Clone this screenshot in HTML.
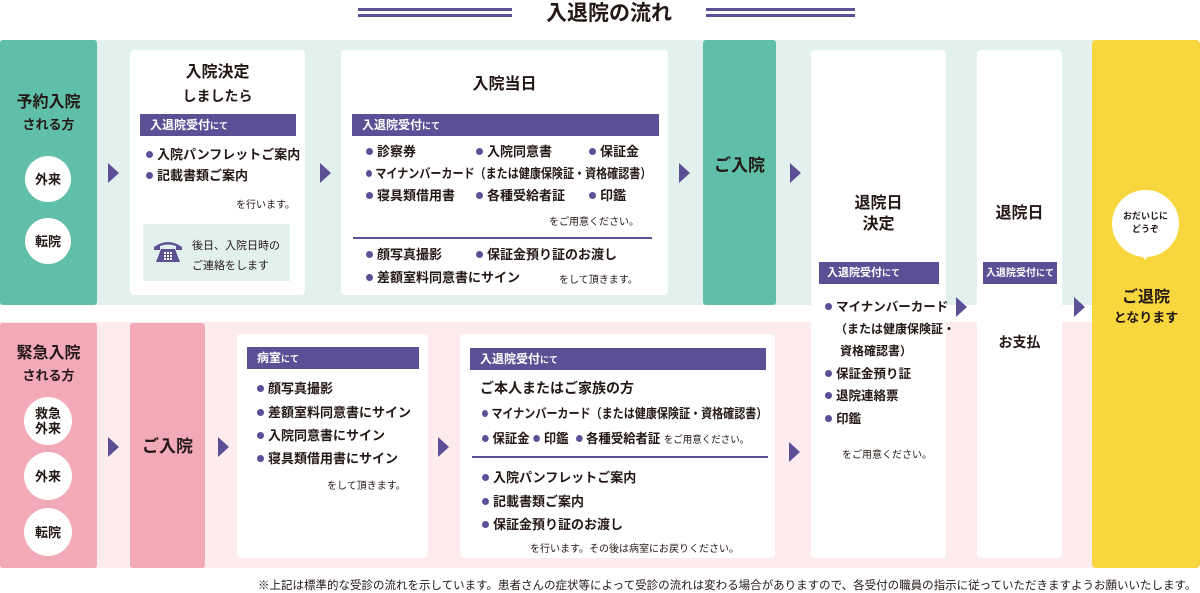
<!DOCTYPE html>
<html><head><meta charset="utf-8"><style>
*{margin:0;padding:0;box-sizing:border-box}
body{width:1200px;height:593px;background:#fff;position:relative;overflow:hidden;font-family:"Liberation Sans","Noto Sans CJK JP",sans-serif;color:#231815;font-weight:bold}
.a{position:absolute}
.card{position:absolute;background:#fff;border-radius:4px}
.bar{position:absolute;background:#5c4f96;color:#fff;font-size:12px;line-height:22px;padding-left:10px;height:22px}
.bar small{font-size:9px}
.t{position:absolute;font-size:13px;line-height:20px;white-space:nowrap}
.d{display:inline-block;width:7px;height:7px;border-radius:50%;background:#5c4f96;margin-right:4px;vertical-align:1px}
.s{position:absolute;font-size:10px;font-weight:normal;white-space:nowrap}
.arr{position:absolute;width:0;height:0;border-top:10px solid transparent;border-bottom:10px solid transparent;border-left:11px solid #5c4f96}
.circ{position:absolute;width:46px;height:46px;border-radius:50%;background:#fff;font-size:13px;text-align:center;display:flex;align-items:center;justify-content:center;line-height:15px}
.h{position:absolute;text-align:center;font-size:16px;line-height:21px}
.sx{transform:scaleX(0.85);transform-origin:left center}
</style></head><body>
<!-- title -->
<div class="a" style="left:358px;top:8px;width:154px;height:3px;background:#5c4f96"></div>
<div class="a" style="left:358px;top:14px;width:154px;height:3px;background:#5c4f96"></div>
<div class="a" style="left:706px;top:8px;width:149px;height:3px;background:#5c4f96"></div>
<div class="a" style="left:706px;top:14px;width:149px;height:3px;background:#5c4f96"></div>
<div class="a" style="left:512px;top:0px;width:194px;text-align:center;font-size:21px;line-height:27px">入退院の流れ</div>

<!-- bands -->
<div class="a" style="left:0;top:40px;width:1095px;height:265px;background:#e3f1ee"></div>
<div class="a" style="left:0;top:322px;width:1095px;height:246px;background:#fdebee"></div>
<div class="a" style="left:0;top:40px;width:97px;height:265px;background:#5fbfa8;border-radius:3px"></div>
<div class="a" style="left:703px;top:40px;width:73px;height:265px;background:#5fbfa8;border-radius:3px"></div>
<div class="a" style="left:0;top:323px;width:97px;height:245px;background:#f2aab6;border-radius:3px"></div>
<div class="a" style="left:130px;top:323px;width:75px;height:245px;background:#f2aab6;border-radius:3px"></div>
<div class="a" style="left:1092px;top:40px;width:108px;height:528px;background:#f7d63e;border-radius:4px"></div>

<!-- left top -->
<div class="h" style="left:0;top:92px;width:97px;font-size:16px">予約入院</div>
<div class="h" style="left:0;top:114px;width:97px;font-size:13px">される方</div>
<div class="circ" style="left:25px;top:156px">外来</div>
<div class="circ" style="left:25px;top:218px">転院</div>

<!-- card1 -->
<div class="card" style="left:130px;top:50px;width:175px;height:245px"></div>
<div class="h" style="left:130px;top:62px;width:175px">入院決定</div>
<div class="h" style="left:130px;top:86px;width:175px;font-size:14px">しましたら</div>
<div class="bar" style="left:140px;top:114px;width:156px">入退院受付<small>にて</small></div>
<div class="t" style="left:146px;top:145px"><span class="d"></span>入院パンフレットご案内</div>
<div class="t" style="left:146px;top:166px"><span class="d"></span>記載書類ご案内</div>
<div class="s" style="left:236px;top:196px">を行います。</div>
<div class="a" style="left:143px;top:224px;width:147px;height:57px;background:#e3f1ee"></div>
<svg class="a" style="left:152px;top:238px" width="32" height="28" viewBox="0 0 32 28"><path d="M2 9 Q16 -1 30 9 L30 12 L24 12 L24 8 Q16 5 8 8 L8 12 L2 12Z" fill="#5c4f96"/><path d="M9 11 L23 11 L28 24 L4 24Z" fill="#5c4f96"/><g fill="#fff"><rect x="12" y="14" width="2" height="2"/><rect x="15" y="14" width="2" height="2"/><rect x="18" y="14" width="2" height="2"/><rect x="12" y="17" width="2" height="2"/><rect x="15" y="17" width="2" height="2"/><rect x="18" y="17" width="2" height="2"/><rect x="12" y="20" width="2" height="2"/><rect x="15" y="20" width="2" height="2"/><rect x="18" y="20" width="2" height="2"/></g></svg>
<div class="s" style="left:192px;top:236px;font-size:11px;line-height:20px">後日、入院日時の<br>ご連絡をします</div>

<!-- card2 -->
<div class="card" style="left:341px;top:50px;width:327px;height:245px"></div>
<div class="h" style="left:341px;top:74px;width:327px">入院当日</div>
<div class="bar" style="left:352px;top:114px;width:307px">入退院受付<small>にて</small></div>
<div class="t" style="left:366px;top:142px"><span class="d"></span>診察券</div>
<div class="t" style="left:476px;top:142px"><span class="d"></span>入院同意書</div>
<div class="t" style="left:589px;top:142px"><span class="d"></span>保証金</div>
<div class="t sx" style="left:366px;top:164px"><span class="d"></span>マイナンバーカード（または健康保険証・資格確認書）</div>
<div class="t" style="left:366px;top:186px"><span class="d"></span>寝具類借用書</div>
<div class="t" style="left:476px;top:186px"><span class="d"></span>各種受給者証</div>
<div class="t" style="left:589px;top:186px"><span class="d"></span>印鑑</div>
<div class="s" style="left:549px;top:213px">をご用意ください。</div>
<div class="a" style="left:353px;top:237px;width:299px;height:1.5px;background:#5c4f96"></div>
<div class="t" style="left:366px;top:245px"><span class="d"></span>顔写真撮影</div>
<div class="t" style="left:476px;top:245px"><span class="d"></span>保証金預り証のお渡し</div>
<div class="t" style="left:366px;top:268px"><span class="d"></span>差額室料同意書にサイン</div>
<div class="s" style="left:559px;top:271px">をして頂きます。</div>

<div class="h" style="left:703px;top:155px;width:73px;font-size:17px">ご入院</div>

<!-- bottom left -->
<div class="h" style="left:0;top:343px;width:97px;font-size:16px">緊急入院</div>
<div class="h" style="left:0;top:365px;width:97px;font-size:13px">される方</div>
<div class="circ" style="left:24px;top:397px;width:48px;height:48px">救急<br>外来</div>
<div class="circ" style="left:24px;top:452px;width:48px;height:48px">外来</div>
<div class="circ" style="left:24px;top:508px;width:48px;height:48px">転院</div>
<div class="h" style="left:130px;top:436px;width:75px;font-size:17px">ご入院</div>

<!-- card 病室 -->
<div class="card" style="left:237px;top:334px;width:191px;height:224px"></div>
<div class="bar" style="left:247px;top:347px;width:172px">病室<small>にて</small></div>
<div class="t" style="left:257px;top:379px"><span class="d"></span>顔写真撮影</div>
<div class="t" style="left:257px;top:403px"><span class="d"></span>差額室料同意書にサイン</div>
<div class="t" style="left:257px;top:426px"><span class="d"></span>入院同意書にサイン</div>
<div class="t" style="left:257px;top:449px"><span class="d"></span>寝具類借用書にサイン</div>
<div class="s" style="left:327px;top:477px">をして頂きます。</div>

<!-- card 入退院受付 -->
<div class="card" style="left:460px;top:334px;width:315px;height:224px"></div>
<div class="bar" style="left:470px;top:348px;width:296px">入退院受付<small>にて</small></div>
<div class="t" style="left:480px;top:378px;font-size:14px">ご本人またはご家族の方</div>
<div class="t sx" style="left:482px;top:404px"><span class="d"></span>マイナンバーカード（または健康保険証・資格確認書）</div>
<div class="t sx" style="left:482px;top:429px;transform:scaleX(0.95)"><span class="d"></span>保証金<span class="d" style="margin-left:4px"></span>印鑑 <span class="d" style="margin-left:4px"></span>各種受給者証 <span style="font-size:10px;font-weight:normal">をご用意ください。</span></div>
<div class="a" style="left:472px;top:456px;width:296px;height:1.5px;background:#5c4f96"></div>
<div class="t" style="left:482px;top:468px"><span class="d"></span>入院パンフレットご案内</div>
<div class="t" style="left:482px;top:492px"><span class="d"></span>記載書類ご案内</div>
<div class="t" style="left:482px;top:515px"><span class="d"></span>保証金預り証のお渡し</div>
<div class="s" style="left:530px;top:540px">を行います。その後は病室にお戻りください。</div>

<!-- 退院日決定 -->
<div class="card" style="left:811px;top:50px;width:135px;height:508px"></div>
<div class="h" style="left:811px;top:193px;width:135px">退院日<br>決定</div>
<div class="bar" style="left:819px;top:262px;width:120px;padding-left:8px;font-size:11px">入退院受付<small>にて</small></div>
<div class="t" style="left:825px;top:296px;font-size:12.5px;line-height:22px"><span class="d"></span>マイナンバーカード</div>
<div class="t" style="left:835px;top:318px;font-size:12px;line-height:22px">（または健康保険証・</div>
<div class="t" style="left:840px;top:340px;font-size:12px;line-height:22px">資格確認書）</div>
<div class="t" style="left:825px;top:363px;font-size:12.5px;line-height:22px"><span class="d"></span>保証金預り証</div>
<div class="t" style="left:825px;top:385px;font-size:12.5px;line-height:22px"><span class="d"></span>退院連絡票</div>
<div class="t" style="left:825px;top:408px;font-size:12.5px;line-height:22px"><span class="d"></span>印鑑</div>
<div class="s" style="left:842px;top:446px">をご用意ください。</div>

<!-- 退院日 -->
<div class="card" style="left:977px;top:50px;width:85px;height:508px"></div>
<div class="h" style="left:977px;top:203px;width:85px">退院日</div>
<div class="bar" style="left:983px;top:262px;width:74px;padding-left:3px;font-size:10px">入退院受付<small>にて</small></div>
<div class="h" style="left:977px;top:332px;width:85px;font-size:14px">お支払</div>

<!-- yellow -->
<div class="a" style="left:1112px;top:190px;width:67px;height:67px;border-radius:50%;background:#fff"></div>
<div class="a" style="left:1140px;top:253px;width:0;height:0;border-left:5px solid transparent;border-right:5px solid transparent;border-top:7px solid #fff"></div>
<div class="a" style="left:1112px;top:210px;width:67px;text-align:center;font-size:9px;line-height:13px">おだいじに<br>どうぞ</div>
<div class="h" style="left:1092px;top:288px;width:108px;font-size:16px;line-height:20px">ご退院<br><span style="font-size:13px">となります</span></div>

<!-- arrows -->
<div class="arr" style="left:108px;top:163px"></div>
<div class="arr" style="left:320px;top:163px"></div>
<div class="arr" style="left:679px;top:163px"></div>
<div class="arr" style="left:790px;top:163px"></div>
<div class="arr" style="left:956px;top:297px"></div>
<div class="arr" style="left:1074px;top:297px"></div>
<div class="arr" style="left:108px;top:437px"></div>
<div class="arr" style="left:218px;top:437px"></div>
<div class="arr" style="left:438px;top:437px"></div>
<div class="arr" style="left:789px;top:442px"></div>

<div class="s" style="left:258px;top:577px;font-size:11.5px">※上記は標準的な受診の流れを示しています。患者さんの症状等によって受診の流れは変わる場合がありますので、各受付の職員の指示に従っていただきますようお願いいたします。</div>
</body></html>
